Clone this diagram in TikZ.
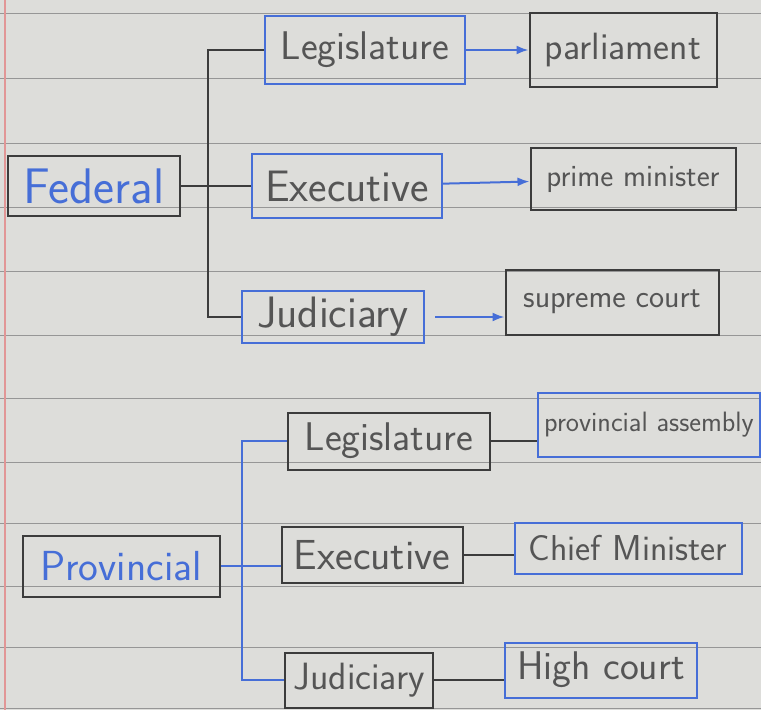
\documentclass[tikz,border=0pt]{standalone}
\usepackage{fontspec}
\usetikzlibrary{arrows.meta, positioning}
\definecolor{paper}{RGB}{221,221,218}
\definecolor{rulegray}{RGB}{150,150,150}
\definecolor{marginred}{RGB}{225,150,150}
\definecolor{pen}{RGB}{60,60,60}
\definecolor{bluepen}{RGB}{70,110,215}
\definecolor{pencil}{RGB}{85,85,85}
\tikzstyle{block}=[draw=pen,rectangle,line width=2pt,text=pencil]
\tikzstyle{blueblock}=[block,draw=bluepen]
\tikzstyle{link}=[draw=pen,line width=2pt]
\tikzstyle{bluelink}=[draw=bluepen,line width=2pt]
\tikzset{txt/.style={font=\sffamily\fontsize{#1}{#1}\selectfont}}
\tikzstyle{every node}=[txt=26]

\begin{document}
\begin{tikzpicture}[x=1pt,y=-1pt,>=Latex,inner sep=0pt]
  % paper
  \fill[paper] (0,0) rectangle (761,710);
  \useasboundingbox (0,0) rectangle (761,710);
  \foreach \y in {13,78,143,207,271,335,398,462,523,586,647,708}
    \draw[rulegray,line width=1pt] (0,\y) -- (761,\y);
  \draw[marginred,line width=2pt] (5,0) -- (5,710);

  % federal
  \node[block,text=bluepen,txt=50,minimum width=172pt,minimum height=60pt] (federal) at (94,186) {Federal};
  \node[blueblock,txt=40,minimum width=200pt,minimum height=68pt] (fedleg) at (365,50) {Legislature};
  \node[blueblock,txt=44,minimum width=190pt,minimum height=64pt] (fedexe) at (347,186) {Executive};
  \node[blueblock,txt=44,minimum width=182pt,minimum height=52pt] (fedjud) at (333,317) {Judiciary};
  \node[block,txt=38,minimum width=187pt,minimum height=74pt] (parl) at (623,50) {parliament};
  \node[block,txt=31,minimum width=205pt,minimum height=62pt] (primemin) at (633,179) {prime minister};
  \node[block,txt=32,minimum width=213pt,minimum height=65pt] (supcourt) at (612,302) {supreme court};
  \coordinate (fedtrunk) at (208,186);
  \draw[link] (federal) -- (fedexe);
  \draw[link] (fedleg.west) -- (fedleg.west -| fedtrunk) -- (fedjud.west -| fedtrunk) -- (fedjud.west);
  \draw[bluelink,->] (fedleg) -- (parl);
  \draw[bluelink,->] (fedexe) -- (primemin);
  \draw[bluelink,->,shorten <=10pt] (fedjud) -- (fedjud -| supcourt.west);

  % provincial
  \node[block,text=bluepen,txt=42,minimum width=197pt,minimum height=61pt] (provincial) at (121,566) {Provincial};
  \node[block,txt=40,minimum width=202pt,minimum height=57pt] (provleg) at (389,441) {Legislature};
  \node[block,txt=42,minimum width=181pt,minimum height=56pt] (provexe) at (372,555) {Executive};
  \node[block,txt=38,minimum width=148pt,minimum height=55pt] (provjud) at (359,680) {Judiciary};
  \node[blueblock,txt=28,minimum width=222pt,minimum height=64pt] (provassembly) at (649,425) {provincial assembly};
  \node[blueblock,txt=36,minimum width=227pt,minimum height=51pt] (chiefmin) at (628,548) {Chief Minister};
  \node[blueblock,txt=40,minimum width=192pt,minimum height=55pt] (highcourt) at (601,670) {High court};
  \coordinate (provtrunk) at (242,566);
  \draw[bluelink] (provincial) -- (provincial -| provexe.west);
  \draw[bluelink] (provleg.west) -- (provleg.west -| provtrunk) -- (provjud.west -| provtrunk) -- (provjud.west);
  \draw[link] (provleg) -- (provleg -| provassembly.west);
  \draw[link] (provexe) -- (provexe -| chiefmin.west);
  \draw[link] (provjud) -- (provjud -| highcourt.west);
\end{tikzpicture}
\end{document}
